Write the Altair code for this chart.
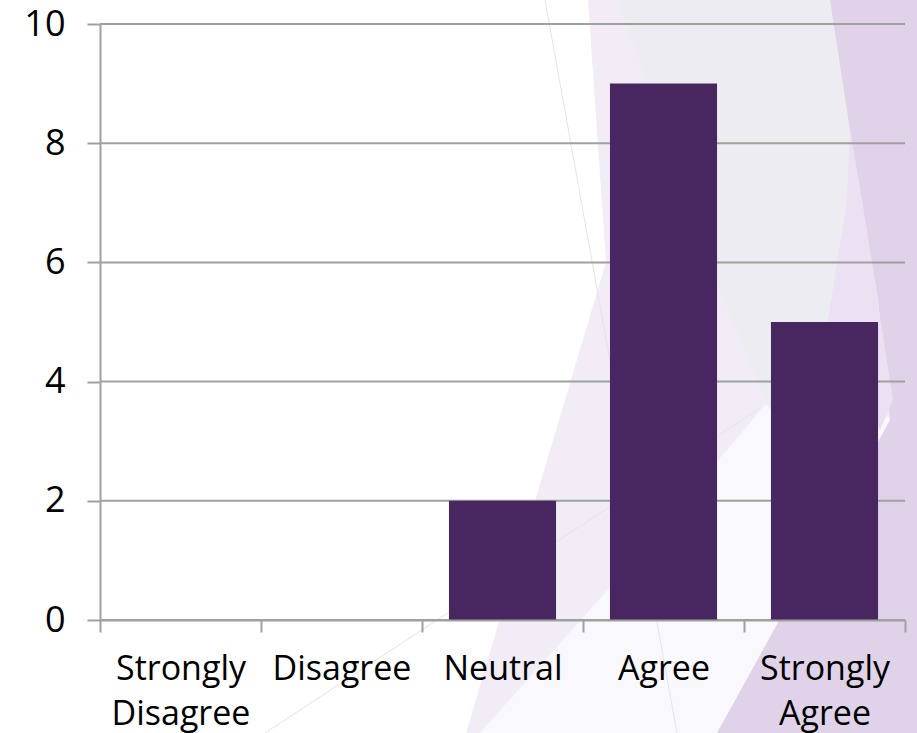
import altair as alt
import pandas as pd

# Survey responses
categories = ["Strongly Disagree", "Disagree", "Neutral", "Agree", "Strongly Agree"]
counts = [0, 0, 2, 9, 5]
y_ticks = [0, 2, 4, 6, 8, 10]

BAR = "#48265f"
GRID = "#a0a0a0"
FONT = "Open Sans"

# Decorative slide backdrop (page pixel space), painted back to front
backdrop_fills = [
    ("#f1ecf6", [(588, 0), (917, 0), (917, 733), (466, 733), (606, 262)]),
    ("#f9f8fc", [(480, 733), (612, 585), (765, 405), (917, 420), (917, 733)]),
    ("#edecf0", [(618, 0), (835, 0), (850, 130), (847, 200), (828, 320), (770, 410), (717, 283), (650, 90)]),
    ("#dfd2e9", [(830, 0), (917, 0), (917, 733), (717, 733), (890, 420), (878, 300), (850, 130)]),
    ("#ebe1f2", [(850, 130), (862, 200), (893, 400), (880, 430), (828, 320), (847, 200)]),
]
backdrop_lines = [
    [(545, 0), (677, 733)],
    [(265, 733), (760, 408)],
]


def polygon(fill, pts):
    ring = [list(p) for p in pts] + [list(pts[0])]
    return {"type": "Feature", "properties": {"fill": fill},
            "geometry": {"type": "Polygon", "coordinates": [ring]}}


def line(pts):
    return {"type": "Feature", "properties": {},
            "geometry": {"type": "LineString", "coordinates": [list(p) for p in pts]}}


page_projection = dict(type="identity", scale=1, translate=[-100, -24])

shapes = alt.Chart(
    alt.Data(values=[polygon(f, p) for f, p in backdrop_fills])
).mark_geoshape(strokeWidth=0, clip=False).encode(
    fill=alt.Fill("properties.fill:N", scale=None)
).project(**page_projection)

strokes = alt.Chart(
    alt.Data(values=[line(p) for p in backdrop_lines])
).mark_geoshape(filled=False, stroke="#e6e2eb", strokeWidth=1, clip=False).encode(
    strokeOpacity=alt.value(1)
).project(**page_projection)

df = pd.DataFrame({"response": categories, "count": counts})
grid_df = pd.DataFrame({"v": y_ticks})

y_scale = alt.Scale(domain=[0, 10], nice=False, zero=True)
y_axis = alt.Axis(
    title=None,
    values=y_ticks,
    labelFont=FONT,
    labelFontSize=36,
    labelColor="#000000",
    labelPadding=22,
    labelFlush=False,
    labelOverlap=False,
    tickSize=13,
    tickColor=GRID,
    tickWidth=2,
    domainColor=GRID,
    domainWidth=2,
    grid=False,
    zindex=1,
)

# horizontal gridlines sit above the backdrop but beneath the bars
grid = alt.Chart(grid_df).mark_rule(color=GRID, strokeWidth=2).encode(
    y=alt.Y("v:Q", scale=y_scale, axis=y_axis)
)

bars = alt.Chart(df).mark_bar(color=BAR, width=alt.RelativeBandSize(0.665)).encode(
    x=alt.X(
        "response:N",
        sort=categories,
        scale=alt.Scale(paddingInner=0, paddingOuter=0),
        axis=alt.Axis(
            title=None,
            labelAngle=0,
            labelExpr="split(datum.label, ' ')",
            labelFont=FONT,
            labelFontSize=34,
            labelLineHeight=45,
            labelColor="#000000",
            labelPadding=20,
            labelLimit=400,
            labelOverlap=False,
            tickBand="extent",
            tickSize=12,
            tickColor=GRID,
            tickWidth=2,
            domainColor=GRID,
            domainWidth=2,
            grid=False,
            zindex=1,
        ),
    ),
    y=alt.Y("count:Q", scale=y_scale, axis=y_axis),
)

chart = alt.layer(shapes, strokes, grid, bars).properties(
    width=805,
    height=596,
    autosize=alt.AutoSizeParams(type="none"),
    padding={"left": 100, "top": 24, "right": 12, "bottom": 113},
    background="#ffffff",
).configure_view(stroke=None)

chart.save("out.html", embed_options={"renderer": "svg", "actions": False})
